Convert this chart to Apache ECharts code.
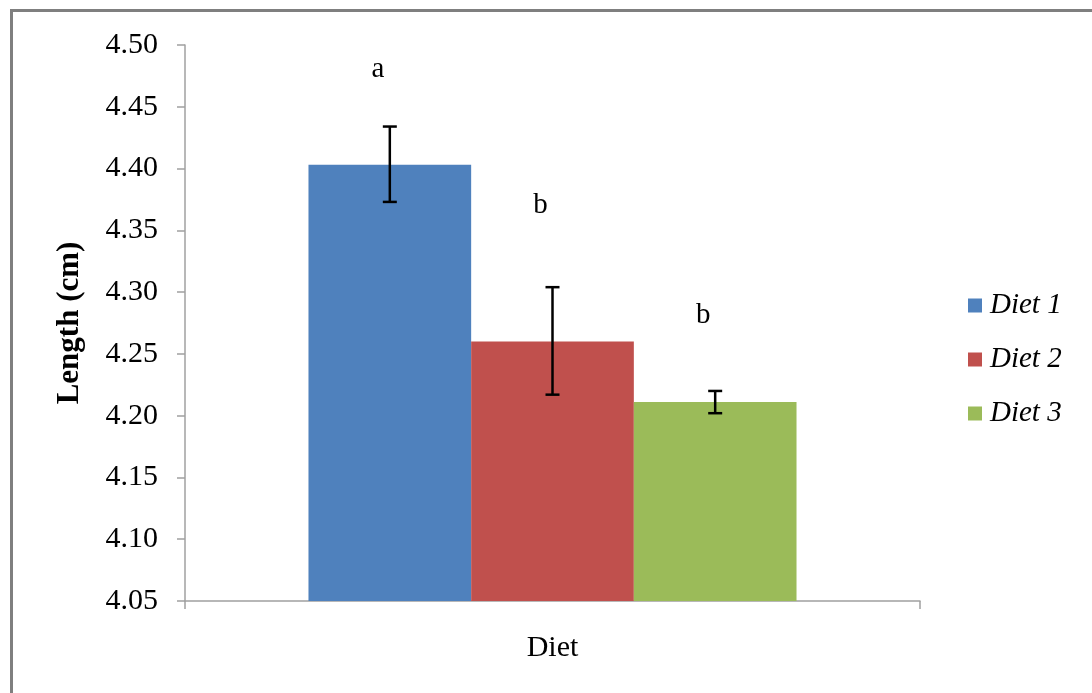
<!DOCTYPE html>
<html>
<head>
<meta charset="utf-8">
<title>Length by diet</title>
<script src="https://cdn.jsdelivr.net/npm/echarts@6/dist/echarts.min.js"></script>
<style>
  html, body { margin: 0; padding: 0; background: #fff; }
  #chart { width: 1092px; height: 693px; }
</style>
</head>
<body>
<div id="chart"></div>
<script>
// Mean length per diet, with error bar ends and significance letters
const categories = ['Diet'];
const seriesNames = ['Diet 1', 'Diet 2', 'Diet 3'];
const means = [4.403, 4.260, 4.211];
const errLow = [4.373, 4.217, 4.202];
const errHigh = [4.434, 4.304, 4.220];
const letters = ['a', 'b', 'b'];
const letterValues = [4.480, 4.370, 4.281];
const colors = ['#4f81bd', '#c0504d', '#9bbb59'];

const FONT = "'Liberation Serif', 'Times New Roman', serif";
const GAP = 0.336; // bar category gap fraction

const chart = echarts.init(document.getElementById('chart'), null, { renderer: 'canvas' });

const barSeries = seriesNames.map((name, i) => ({
  name: name,
  type: 'bar',
  data: [means[i]],
  itemStyle: { color: colors[i] },
  barGap: '0%',
  barCategoryGap: (GAP * 100) + '%',
  z: 2
}));

// Error bars and letters, placed at each bar's center inside the single category
const overlay = {
  type: 'custom',
  name: 'errors',
  silent: true,
  z: 5,
  data: means.map((m, i) => [i, errLow[i], errHigh[i], letterValues[i]]),
  renderItem: function (params, api) {
    const i = api.value(0);
    const band = api.size([1, 0])[0];
    const bw = band * (1 - GAP) / 3;
    const base = api.coord([0, api.value(1)]);
    const cx = base[0] + (i - 1) * bw;
    const yLow = base[1];
    const yHigh = api.coord([0, api.value(2)])[1];
    const yLetter = api.coord([0, api.value(3)])[1];
    const cap = 7;
    const ls = { stroke: '#000', lineWidth: 2.5 };
    return {
      type: 'group',
      children: [
        { type: 'line', shape: { x1: cx, y1: yHigh, x2: cx, y2: yLow }, style: ls },
        { type: 'line', shape: { x1: cx - cap, y1: yHigh, x2: cx + cap, y2: yHigh }, style: ls },
        { type: 'line', shape: { x1: cx - cap, y1: yLow, x2: cx + cap, y2: yLow }, style: ls },
        {
          type: 'text',
          x: cx - 12,
          y: yLetter,
          style: {
            text: letters[i],
            font: '29px ' + FONT,
            fill: '#000',
            align: 'center',
            verticalAlign: 'middle'
          }
        }
      ]
    };
  }
};

chart.setOption({
  animation: false,
  backgroundColor: '#fff',
  graphic: [{
    type: 'rect',
    shape: { x: 11.5, y: 10.5, width: 1200, height: 800 },
    style: { fill: 'none', stroke: '#7f7f7f', lineWidth: 3 },
    z: 10
  }],
  grid: { left: 185, top: 45, right: 172, bottom: 92, containLabel: false },
  legend: {
    orient: 'vertical',
    left: 968,
    top: 291,
    padding: 0,
    itemWidth: 14,
    itemHeight: 14,
    itemGap: 25,
    icon: 'rect',
    data: seriesNames,
    textStyle: {
      fontFamily: FONT,
      fontStyle: 'italic',
      fontSize: 29,
      color: '#000',
      padding: [0, 0, 0, 3]
    }
  },
  xAxis: {
    type: 'category',
    data: categories,
    boundaryGap: true,
    axisLine: { lineStyle: { color: '#a0a0a0', width: 1.5 } },
    axisTick: { show: true, alignWithLabel: false, length: 8, lineStyle: { color: '#a0a0a0', width: 1.5 } },
    axisLabel: { margin: 32, color: '#000', fontFamily: FONT, fontSize: 30 }
  },
  yAxis: {
    type: 'value',
    min: 4.05,
    max: 4.50,
    interval: 0.05,
    name: 'Length (cm)',
    nameLocation: 'middle',
    nameGap: 100,
    nameTextStyle: { fontFamily: FONT, fontWeight: 'bold', fontSize: 31, color: '#000' },
    axisLine: { show: true, lineStyle: { color: '#a0a0a0', width: 1.5 } },
    axisTick: { show: true, length: 8, lineStyle: { color: '#a0a0a0', width: 1.5 } },
    splitLine: { show: false },
    axisLabel: {
      margin: 27,
      color: '#000',
      fontFamily: FONT,
      fontSize: 30,
      formatter: v => v.toFixed(2)
    }
  },
  series: barSeries.concat([overlay])
});
</script>
</body>
</html>
